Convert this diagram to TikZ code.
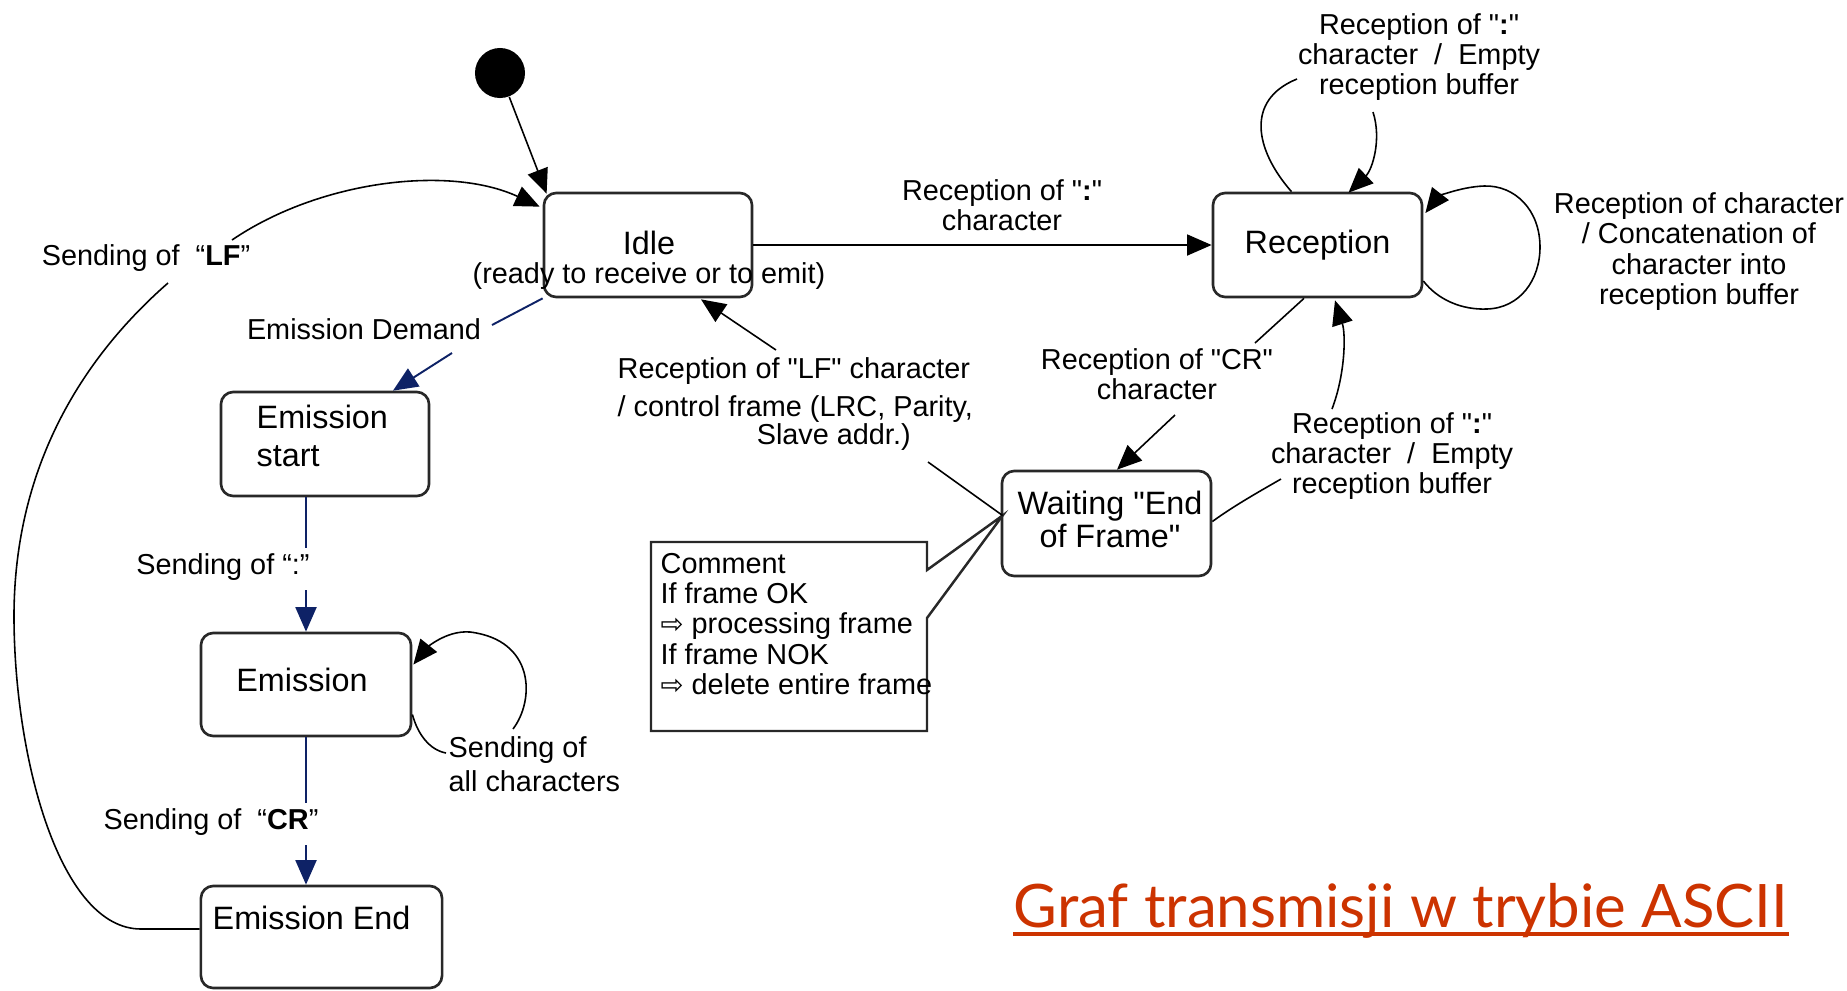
\documentclass[tikz,border=0pt]{standalone}
\usepackage{fontspec}
\setmainfont{Liberation Sans}[Ligatures=TeXOff]
\newfontfamily\symfont{DejaVu Sans}
\newfontfamily\titlefont{Lato}
\usetikzlibrary{arrows.meta,calc}
\definecolor{navy}{RGB}{14,34,102}
\definecolor{titlered}{RGB}{204,51,0}
\definecolor{edge}{RGB}{40,40,40}
\tikzset{
  state/.style={draw=edge, line width=0.75pt, rounded corners=3.5pt, inner sep=0pt},
  tr/.style={draw=black, line width=0.45pt},
  nv/.style={draw=navy, line width=0.55pt},
  tip/.style={-{Triangle[length=7pt,width=6pt]}},
  lbl/.style={font=\fontsize{8.2}{8.6}\selectfont, inner sep=0pt, align=center},
  stxt/.style={font=\fontsize{9.2}{10}\selectfont, inner sep=0pt},
  notetxt/.style={font=\fontsize{8.2}{8.55}\selectfont, inner sep=0pt, align=left},
}
\newcommand{\rarr}{{\symfont\fontsize{7.8}{8.5}\selectfont ⇨}}
\begin{document}
\begin{tikzpicture}[x=0.01cm, y=-0.01cm]
\useasboundingbox (0,0) rectangle (1847,990);

% ---- states ----
\node[circle, fill=black, minimum size=0.5cm, inner sep=0pt] (init) at (500,73) {};
\node[state, minimum width=2.08cm, minimum height=1.04cm] (idle) at (648,245) {};
\node[stxt] at (649,243) {Idle};
\node[lbl] at (649,276) {(ready to receive or to emit)};

\node[state, minimum width=2.09cm, minimum height=1.04cm, stxt, font=\fontsize{9.2}{10}\selectfont] (reception) at (1317.5,245) {Reception};

\node[state, minimum width=2.08cm, minimum height=1.04cm] (estart) at (325,444) {};
\node[stxt, anchor=west, align=left, font=\fontsize{9.2}{10.8}\selectfont] at (256,436) {Emission\\start};

\node[state, minimum width=2.10cm, minimum height=1.03cm] (emission) at (306,684.5) {};
\node[stxt] at (302,680) {Emission};

\node[state, minimum width=2.41cm, minimum height=1.02cm] (eend) at (321.5,937) {};
\node[stxt, anchor=west] at (212,918) {Emission End};

\node[state, minimum width=2.09cm, minimum height=1.05cm] (waiting) at (1106.5,523.5) {};
\node[stxt, align=center, font=\fontsize{9.2}{9.4}\selectfont] at (1110,519.5) {Waiting "End\\of Frame"};

% ---- comment note with its callout wedge ----
\coordinate (wpt) at ($(waiting.west)+(2,-8)$);
\draw[draw=edge, line width=0.7pt] (651,542) -- (927,542) -- (927,570) -- (wpt) -- (927,618) -- (927,731) -- (651,731) -- cycle;
\node[notetxt, anchor=north west] (note) at (660,553)
  {Comment\\If frame OK\\\rarr\ processing frame\\If frame NOK\\\rarr\ delete entire frame};

% ---- transitions ----
% initial
\draw[tr, tip] (init) -- ($(idle.north west)+(4,2)$);

% idle -> reception
\draw[tr, tip] (idle.east) -- (reception.west);
\node[lbl] at (1002,205) {Reception of "\textbf{:}"\\character};

% reception self-loop (top)
\draw[tr] ($(reception.north)+(-26,0)$) .. controls (1255,150) and (1245,100) .. (1297,79);
\draw[tr, tip] (1373,112) .. controls (1382,140) and (1372,170) .. ($(reception.north)+(31,1)$);
\node[lbl] at (1419,57) {Reception of "\textbf{:}"\\character\ \ /\ \ Empty\\reception buffer};

% reception self-loop (right)
\draw[tr, tip] ($(reception.east)+(0,36)$) .. controls (1438,300) and (1462,310) .. (1487,309)
  .. controls (1520,308) and (1540,280) .. (1540,247)
  .. controls (1540,210) and (1515,185) .. (1484,186)
  .. controls (1458,187) and (1437,198) .. ($(reception.east)+(2,-32)$);
\node[lbl] at (1699,251.5) {Reception of character\\/ Concatenation of\\character into\\reception buffer};

% reception -> waiting
\draw[tr] ($(reception.south)+(-13.5,0)$) -- (1255,343);
\draw[tr, tip] (1175,415) -- ($(waiting.north)+(10.5,0)$);
\node[lbl] at (1157,374.5) {Reception of "CR"\\character};

% waiting -> reception
\draw[tr] ($(waiting.east)+(0,-2)$) .. controls (1235,505) and (1262,490) .. (1281,479);
\draw[tr, tip] (1332,409) .. controls (1345,375) and (1346,335) .. ($(reception.south)+(17.5,2)$);
\node[lbl] at (1392,456) {Reception of "\textbf{:}"\\character\ \ /\ \ Empty\\reception buffer};

% waiting -> idle
\draw[tr] (wpt) -- (928,462);
\draw[tr, tip] (776,350) -- ($(idle.south)+(53,1)$);
\node[lbl, anchor=north west, align=left] at (617,357)
  {Reception of "LF" character\\[2.2pt]/ control frame (LRC, Parity,\\[-0.6pt]\hspace*{1.39cm}Slave addr.)};

% idle -> emission start
\draw[nv] (idle.south west) -- (492,325);
\draw[nv, tip] (452,353) -- ($(estart.north)+(68,0)$);
\node[lbl] at (364,329) {Emission Demand};

% emission start -> emission
\draw[nv] ($(estart.south)+(-19,0)$) -- (306,548);
\draw[nv, tip] (306,590) -- (emission.north);
\node[lbl] at (223,567) {Sending of “:”};

% emission self-loop
\draw[tr] ($(emission.east)+(0,30)$) .. controls (418,735) and (430,750) .. (446,753);
\draw[tr, tip] (513,729) .. controls (535,700) and (535,640) .. (470,632)
  .. controls (445,630) and (425,650) .. ($(emission.east)+(1,-20)$);
\node[lbl, anchor=west, align=left, font=\fontsize{8.2}{9.7}\selectfont] at (448,764) {Sending of\\all characters};

% emission -> emission end
\draw[nv] (emission.south) -- (306,803);
\draw[nv, tip] (306,845) -- (emission.south |- eend.north);
\node[lbl] at (211,822) {Sending of\ \ “\textbf{CR}”};

% emission end -> idle
\draw[tr] ($(eend.west)+(0,-8)$) -- (141,929) .. controls (60,929) and (15,760) .. (14,620)
  .. controls (13,470) and (80,360) .. (168,283);
\draw[tr, tip] (232,240) .. controls (320,180) and (450,165) .. ($(idle.north west)+(-3,15)$);
\node[lbl] at (146,258) {Sending of\ \ “\textbf{LF}”};

% ---- caption ----
\node[font=\titlefont\fontsize{17.05}{20}\selectfont, text=titlered, inner sep=0pt, anchor=base west] (title) at (1013,927) {Graf transmisji w trybie ASCII};
\draw[titlered, line width=1.1pt] ($(title.base west)+(0,7)$) -- ($(title.base east)+(0,7)$);
\end{tikzpicture}
\end{document}
